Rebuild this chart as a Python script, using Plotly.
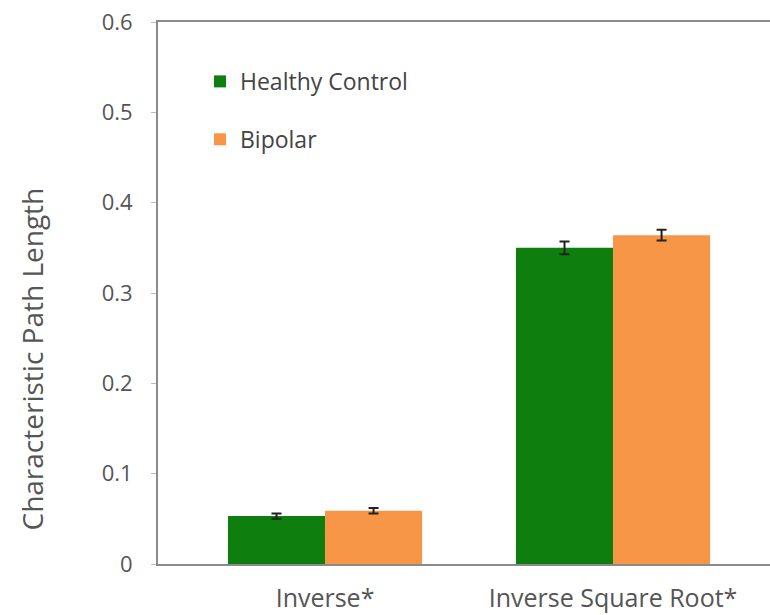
import plotly.graph_objects as go

# Characteristic path length by weighting scheme and group
categories = ["Inverse*", "Inverse Square Root*"]
healthy_vals = [0.053, 0.350]
healthy_err = [0.003, 0.007]
bipolar_vals = [0.059, 0.364]
bipolar_err = [0.003, 0.006]
y_ticks = [0, 0.1, 0.2, 0.3, 0.4, 0.5, 0.6]
y_tick_text = ["0", "0.1", "0.2", "0.3", "0.4", "0.5", "0.6"]

GREEN = "#0E7F0E"
ORANGE = "#F79646"
TEXT = "#555555"
FONT = "Open Sans"

fig = go.Figure()
fig.add_trace(go.Bar(
    x=categories, y=healthy_vals, name="Healthy Control",
    marker=dict(color=GREEN, line=dict(width=0)),
    error_y=dict(type="data", array=healthy_err, color="#222222", thickness=2, width=5),
    legendgroup="hc",
))
fig.add_trace(go.Bar(
    x=categories, y=bipolar_vals, name="Bipolar",
    marker=dict(color=ORANGE, line=dict(width=0)),
    error_y=dict(type="data", array=bipolar_err, color="#222222", thickness=2, width=5),
    legendgroup="bp",
))

fig.update_layout(
    width=770, height=615,
    margin=dict(l=158, r=0, t=22, b=51),
    paper_bgcolor="white", plot_bgcolor="white",
    barmode="group", bargap=0.326, bargroupgap=0,
    font=dict(family=FONT, color=TEXT),
    showlegend=True,
    legend=dict(
        x=0.0686, y=0.93, xanchor="left", yanchor="top",
        font=dict(size=23, color="#444444", family=FONT),
        bgcolor="rgba(0,0,0,0)", tracegroupgap=25, traceorder="grouped",
        itemsizing="constant",
    ),
    xaxis=dict(
        range=[-0.58, 1.545], showgrid=False, zeroline=False,
        showline=True, linecolor="#8a8a8a", linewidth=2, mirror=True,
        ticks="", tickfont=dict(size=25, color=TEXT, family=FONT),
        ticklabelstandoff=11,
    ),
    yaxis=dict(
        range=[0, 0.6], tickvals=y_ticks, ticktext=y_tick_text,
        showgrid=False, zeroline=False,
        showline=True, linecolor="#8a8a8a", linewidth=2, mirror=False,
        ticks="outside", ticklen=5, tickcolor="#bbbbbb", tickwidth=1,
        tickfont=dict(size=22, color=TEXT, family=FONT),
        ticklabelstandoff=14,
    ),
    annotations=[dict(
        text="Characteristic Path Length", textangle=-90,
        xref="paper", yref="paper", x=-0.206, y=0.379,
        xanchor="center", yanchor="middle", showarrow=False,
        font=dict(size=28, color=TEXT, family=FONT),
    )],
)

fig.write_html("out.html")
